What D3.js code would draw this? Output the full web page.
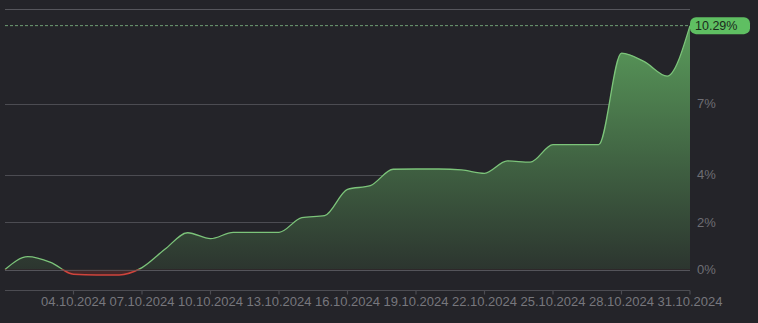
<!DOCTYPE html>
<html><head><meta charset="utf-8">
<script src="https://cdn.jsdelivr.net/npm/d3@7"></script>
<style>
html,body{margin:0;padding:0;background:#242429;}
svg{display:block;}
text{font-family:"Liberation Sans",Arial,sans-serif;}
</style></head>
<body><svg id="c" width="758" height="323"></svg>
<script>
const dates = ["01.10.2024","02.10.2024","03.10.2024","04.10.2024","05.10.2024","06.10.2024","07.10.2024","08.10.2024","09.10.2024","10.10.2024","11.10.2024","12.10.2024","13.10.2024","14.10.2024","15.10.2024","16.10.2024","17.10.2024","18.10.2024","19.10.2024","20.10.2024","21.10.2024","22.10.2024","23.10.2024","24.10.2024","25.10.2024","26.10.2024","27.10.2024","28.10.2024","29.10.2024","30.10.2024","31.10.2024"];
const values = [0,0.54,0.3,-0.2,-0.23,-0.23,0.08,0.85,1.55,1.3,1.57,1.57,1.57,2.19,2.27,3.38,3.54,4.23,4.24,4.24,4.2,4.06,4.58,4.53,5.27,5.27,5.27,9.13,8.77,8.16,10.29];
const xTickLabels = ["04.10.2024","07.10.2024","10.10.2024","13.10.2024","16.10.2024","19.10.2024","22.10.2024","25.10.2024","28.10.2024","31.10.2024"];
const yGridValues = [0,2,4,7,11];
const yTickLabels = ["0%","2%","4%","7%"];
const yTickValues = [0,2,4,7];
const lastLabel = "10.29%";

const parse = d3.timeParse("%d.%m.%Y");
const data = dates.map((d,i)=>({date:parse(d), v:values[i]}));
const svg = d3.select("#c");
const x = d3.scaleTime().domain([parse(dates[0]), parse(dates[dates.length-1])]).range([5,690]);
const y = d3.scaleLinear().domain([0,11]).range([269.5,8.8]);

// gridlines
svg.append("g").selectAll("line").data(yGridValues).join("line")
  .attr("x1",5).attr("x2",690)
  .attr("y1",d=>Math.round(y(d))+0.5).attr("y2",d=>Math.round(y(d))+0.5)
  .attr("stroke",d=>d===11?"#56565c":"#4c4c52").attr("stroke-width",1.2);

// y labels
svg.append("g").selectAll("text").data(yTickValues).join("text")
  .attr("x",697).attr("y",d=>y(d)).attr("dy","0.36em")
  .attr("fill","#6e6e74").attr("font-size",13)
  .text((d,i)=>yTickLabels[i]);

// gradient
const defs = svg.append("defs");
const g = defs.append("linearGradient").attr("id","gf").attr("gradientUnits","userSpaceOnUse")
  .attr("x1",0).attr("x2",0).attr("y1",y(10.3)).attr("y2",y(0));
g.append("stop").attr("offset","0%").attr("stop-color","#5a9c5b");
g.append("stop").attr("offset","100%").attr("stop-color","#2c352f");
defs.append("clipPath").attr("id","above").append("rect").attr("x",0).attr("y",0).attr("width",758).attr("height",y(0));
defs.append("clipPath").attr("id","below").append("rect").attr("x",0).attr("y",y(0)).attr("width",758).attr("height",60);

const curve = d3.curveMonotoneX;
const area = d3.area().x(d=>x(d.date)).y0(y(0)).y1(d=>y(d.v)).curve(curve);
const line = d3.line().x(d=>x(d.date)).y(d=>y(d.v)).curve(curve);

svg.append("path").datum(data).attr("d",area).attr("fill","url(#gf)").attr("clip-path","url(#above)");
svg.append("path").datum(data).attr("d",area).attr("fill","#5a2a2a").attr("opacity",0.6).attr("clip-path","url(#below)");
svg.append("path").datum(data).attr("d",line).attr("fill","none").attr("stroke","#7cc47a").attr("stroke-width",1.3).attr("clip-path","url(#above)");
svg.append("path").datum(data).attr("d",line).attr("fill","none").attr("stroke","#d0443c").attr("stroke-width",1.6).attr("clip-path","url(#below)");

// redraw 0 line thin on top
svg.append("line").attr("x1",5).attr("x2",690).attr("y1",Math.round(y(0))+0.5).attr("y2",Math.round(y(0))+0.5)
  .attr("stroke","#5a5a60").attr("stroke-width",1).attr("opacity",0.6);

// dashed last value line
const last = data[data.length-1];
svg.append("line").attr("x1",5).attr("x2",690).attr("y1",y(last.v)).attr("y2",y(last.v))
  .attr("stroke","#6f9e74").attr("stroke-width",1).attr("stroke-dasharray","3,2");

// badge
const by = y(last.v);
svg.append("rect").attr("x",690).attr("y",by-8.5).attr("width",60).attr("height",17).attr("rx",6)
  .attr("fill","#5fbf62");
svg.append("text").attr("x",695).attr("y",by).attr("dy","0.36em").attr("fill","#1b2a1c")
  .attr("font-size",12.5).text(lastLabel);

// x axis
const xa = svg.append("g").attr("transform","translate(0,290.5)");
xa.append("line").attr("x1",5).attr("x2",690).attr("stroke","#4c4c52").attr("stroke-width",1.2);
const tickDates = xTickLabels.map(parse);
xa.selectAll("line.t").data(tickDates).join("line").attr("class","t")
  .attr("x1",d=>x(d)).attr("x2",d=>x(d)).attr("y1",0).attr("y2",4).attr("stroke","#4c4c52").attr("stroke-width",1.2);
xa.selectAll("text").data(xTickLabels).join("text")
  .attr("x",d=>x(parse(d))).attr("y",11).attr("dy","0.36em").attr("text-anchor","middle")
  .attr("fill","#77777d").attr("font-size",13).text(d=>d);
</script></body></html>
